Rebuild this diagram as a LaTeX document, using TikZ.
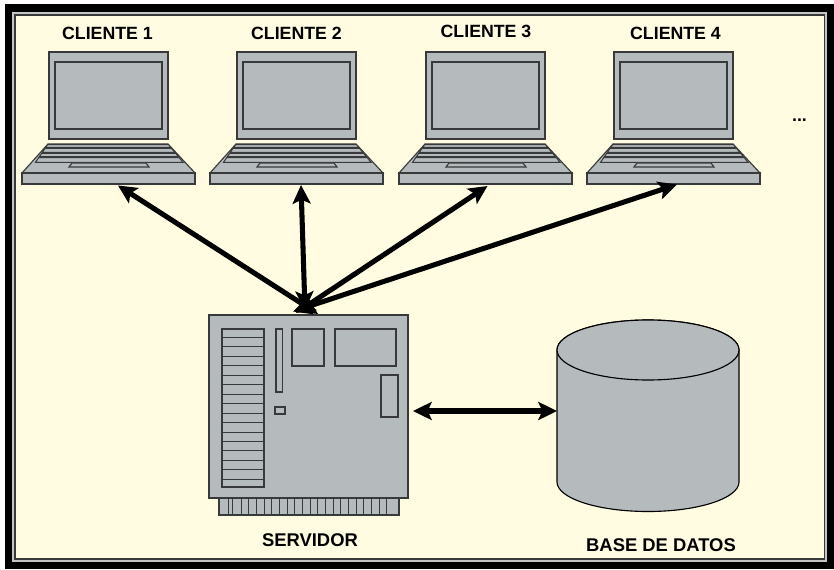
\documentclass[tikz,border=0pt]{standalone}
\usepackage{fontspec}
\setmainfont{Liberation Sans}
\usetikzlibrary{positioning,arrows.meta}
\definecolor{paper}{HTML}{FFFCE1}
\definecolor{casing}{HTML}{B5BABC}
\definecolor{edgeline}{HTML}{38393A}
\definecolor{rim}{HTML}{C4C6C4}
\tikzset{
    part/.style={draw=edgeline,fill=casing,line width=.85pt},
    partbox/.style={part,inner sep=0pt,outer sep=0pt},
    caption/.style={node font=\bfseries\fontsize{13.3pt}{15pt}\selectfont,inner sep=0pt,anchor=base},
    widecaption/.style={caption,node font=\bfseries\fontsize{13.8pt}{15pt}\selectfont},
    link/.style={line width=3.8pt,black,>={Stealth[length=14pt,width=13.5pt,inset=3pt]}},
    laptop/.pic={
        \draw[part] (27,0) rectangle (146,87);
        \draw[part] (33,10) rectangle (140,77);
        \draw[part] (26,92) -- (146,92) -- (173,121) -- (0,121) -- cycle;
        \foreach \ya/\yb in {92.6/95.5,96.5/100.5,101.5/104.7,105.7/110.3}
            \draw[part,line width=.75pt] ({26-(\ya-92)*.68},\ya) -- ({146+(\ya-92)*.82},\ya)
                -- ({146+(\yb-92)*.82},\yb) -- ({26-(\yb-92)*.68},\yb) -- cycle;
        \draw[part] (50,111) -- (124,111) -- (127,115) -- (47,115) -- cycle;
        \node[partbox,minimum width=129.75pt,minimum height=8.25pt] (-base) at (86.5,126.5) {};
    },
}
\begin{document}
\begin{tikzpicture}[x=.75pt,y=-.75pt]
\useasboundingbox (0,0) rectangle (834,570);
\fill[black] (5,4.5) rectangle (834,569);
\draw[rim,line width=2pt,fill=paper] (13.5,13.5) rectangle (826,560.5);
\draw[edgeline,line width=.8pt] (15,15) rectangle (824.5,559);

\foreach \i/\x in {1/22,2/210,3/399,4/587}
    \pic (cl\i) at (\x,52) {laptop};
\node[caption] (lab1) at (107.5,39.5) {CLIENTE 1};
\node[caption] (lab2) at (296.5,39.5) {CLIENTE 2};
\node[caption] (lab3) at (486,37.5) {CLIENTE 3};
\node[caption] (lab4) at (675.5,39.5) {CLIENTE 4};
\node[caption] (more) at (799.5,122) {...};

\node[partbox,minimum width=149.25pt,minimum height=137.25pt] (srv) at (308.5,406.5) {};
\node[widecaption,below=26.5pt of srv,xshift=1.1pt] (srvlab) {SERVIDOR};
\draw[part] (219,498) rectangle (399,515);
\draw[part,line width=.7pt] (228.3,498) -- (228.3,515) (232.3,498) -- (232.3,515);
\foreach \n in {0,...,19}
    \draw[part,line width=.7pt] ({241+\n*7.67},498) -- ({241+\n*7.67},515);
\draw[part] (222,329) rectangle (264,487);
\foreach \n in {0,...,15}
    \draw[part,line width=.7pt] (222,{337.3+\n*9.47}) -- (264,{337.3+\n*9.47});
\draw[part] (276,329) rectangle (282.5,392);
\draw[part] (292,329) rectangle (324,366);
\draw[part] (335,329) rectangle (396,366);
\draw[part] (381,375) rectangle (398,417);
\draw[part] (275,407) rectangle (285,414);

\draw[part,draw=black] (557,350) -- (557,482) arc[start angle=180,end angle=0,x radius=91,y radius=29.5]
    -- (739,350) arc[start angle=0,end angle=-180,x radius=91,y radius=30] -- cycle;
\draw[part,draw=black] (648,350) ellipse [x radius=91,y radius=30];
\node[widecaption] (dblab) at (661,551) {BASE DE DATOS};

\coordinate (p1) at (118,185.5);
\coordinate (p2) at (301,185);
\coordinate (p3) at (487.5,186);
\coordinate (p4) at (677,184.5);
\coordinate (s1) at (318,314);
\coordinate (s2) at (305,310);
\coordinate (s3) at (296,313);
\coordinate (s4) at (293,311.5);
\coordinate (srvp) at (413,411);
\coordinate (dbp) at (557,411);
\draw[link]
(s1) edge[<->] (p1)
(s2) edge[<->] (p2)
(s3) edge[<->] (p3)
(s4) edge[<->] (p4)
(srvp) edge[<->] (dbp)
;
\end{tikzpicture}
\end{document}
